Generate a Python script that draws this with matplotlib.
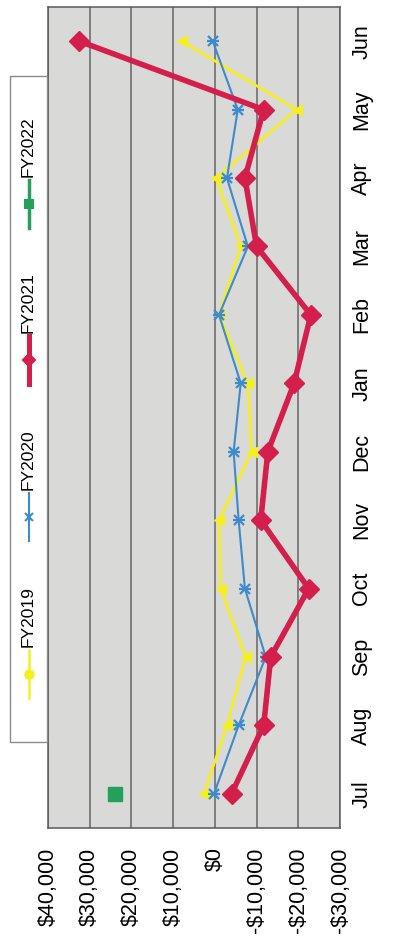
import matplotlib.pyplot as plt
from matplotlib.patches import Rectangle
from matplotlib.lines import Line2D

plt.rcParams['font.family'] = ['Liberation Sans', 'DejaVu Sans']

# Dados (meses de Jul a Jun)
meses = ['Jul', 'Aug', 'Sep', 'Oct', 'Nov', 'Dec', 'Jan', 'Feb', 'Mar', 'Apr', 'May', 'Jun']
fy2019 = [2600, -2900, -7400, -1400, -1000, -8800, -7900, -1000, -6200, -300, -19600, 7900]
fy2020 = [200, -5700, -12200, -7200, -5700, -4500, -6200, -1000, -7900, -2900, -5500, 500]
fy2021 = [-4000, -11700, -13400, -22500, -11000, -12700, -19000, -23000, -10000, -7200, -11700, 32500]
fy2022 = [24000]
valores_eixo = [40000, 30000, 20000, 10000, 0, -10000, -20000, -30000]
rotulos_eixo = ['$40,000', '$30,000', '$20,000', '$10,000', '$0', '-$10,000', '-$20,000', '-$30,000']

W, H = 403, 940
fig = plt.figure(figsize=(W / 100, H / 100), dpi=100)
fig.patch.set_facecolor('white')

# Area do grafico (rotacionado 90 graus)
ax = fig.add_axes([48 / W, 1 - 828 / H, (340 - 48) / W, (828 - 7) / H])
ax.set_facecolor('#d9d9d7')

pos = list(range(len(meses)))
ax.plot(fy2019, pos, '-', color='#f6ef1c', linewidth=1.9, marker='<', markersize=7, zorder=3)
ax.plot(fy2020, pos, '-', color='#3d8bcc', linewidth=1.5, marker='x', markersize=7, markeredgewidth=1.6, zorder=4)
ax.plot(fy2020, pos, ' ', color='#3d8bcc', marker='_', markersize=8, markeredgewidth=1.6, zorder=4)
ax.plot(fy2021, pos, '-', color='#d41f4c', linewidth=4, marker='D', markersize=10.5, zorder=5)
ax.plot(fy2022, pos[:1], ' ', color='#23a05a', marker='s', markersize=10, zorder=5)

ax.set_xlim(40000, -30000)
ax.set_ylim(-0.5, 11.5)
ax.set_xticks(valores_eixo)
ax.set_xticklabels(rotulos_eixo, rotation=90, fontsize=15.5)
ax.set_yticks(pos)
ax.set_yticklabels(meses, rotation=90, fontsize=15.5, va='center')
ax.yaxis.tick_right()
ax.tick_params(axis='x', length=0, pad=14)
ax.tick_params(axis='y', length=0, pad=8)
ax.grid(axis='x', color='#666666', linewidth=1.1, zorder=1)
ax.set_axisbelow(True)
for s in ax.spines.values():
    s.set_color('#5a5a5a')
    s.set_linewidth(1.1)

# Legenda desenhada a mao (rotacionada)
fig.patches.append(Rectangle((10 / W, 1 - 742 / H), 37 / W, (742 - 76) / H,
                             transform=fig.transFigure, facecolor='white',
                             edgecolor='#8a8a8a', linewidth=1, zorder=0))
legenda = ['FY2022', 'FY2021', 'FY2020', 'FY2019']
cores = ['#23a05a', '#d41f4c', '#3d8bcc', '#f6ef1c']
marcadores = ['s', 'D', 'x', 'o']
larguras = [2.5, 3.6, 1.5, 1.8]
base_texto = [177, 333, 490, 647]
for k in range(4):
    yb = base_texto[k]
    fig.text(28 / W, 1 - yb / H, legenda[k], rotation=90, ha='center', va='bottom', fontsize=12.5)
    y0 = 1 - (yb + 3) / H
    y1 = 1 - (yb + 51) / H
    fig.lines.append(Line2D([29 / W, 29 / W], [y0, y1], transform=fig.transFigure,
                            color=cores[k], linewidth=larguras[k]))
    fig.lines.append(Line2D([29 / W], [(y0 + y1) / 2], transform=fig.transFigure,
                            color=cores[k], marker=marcadores[k], markersize=6, markeredgewidth=1.5))

plt.savefig('out.png', dpi=100)
